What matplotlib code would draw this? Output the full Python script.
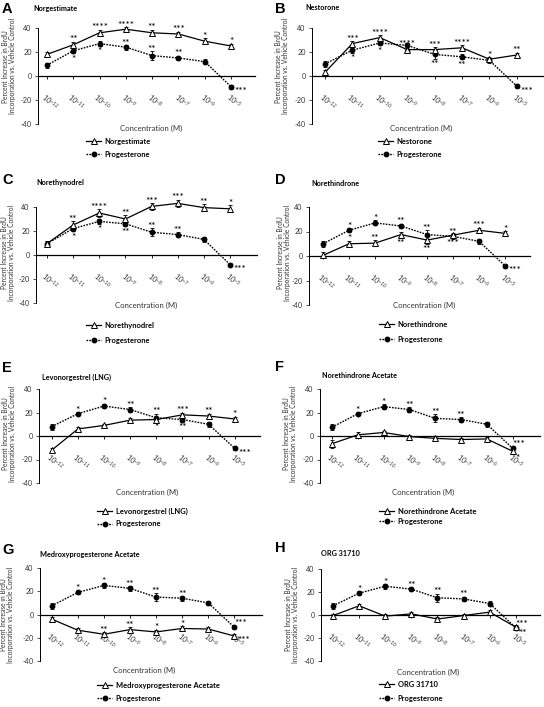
import matplotlib
matplotlib.use('Agg')
import matplotlib.pyplot as plt
from matplotlib.transforms import ScaledTranslation

plt.rcParams['font.family'] = ['Lato', 'DejaVu Sans']
plt.rcParams['mathtext.fontset'] = 'custom'
plt.rcParams['mathtext.rm'] = 'Lato'
plt.rcParams['mathtext.it'] = 'Lato:italic'
plt.rcParams['mathtext.bf'] = 'Lato:bold'

W, H = 544, 707

# ---------------- data ----------------
concentrations = ['10$^{-12}$', '10$^{-11}$', '10$^{-10}$', '10$^{-9}$',
                  '10$^{-8}$', '10$^{-7}$', '10$^{-6}$', '10$^{-5}$']
y_ticks = [40, 20, 0, -20, -40]
panel_letters = ['A', 'B', 'C', 'D', 'E', 'F', 'G', 'H']
drug_names = ['Norgestimate', 'Nestorone', 'Norethynodrel', 'Norethindrone',
              'Levonorgestrel (LNG)', 'Norethindrone Acetate',
              'Medroxyprogesterone Acetate', 'ORG 31710']
reference_name = 'Progesterone'

drug_A = [18, 26, 36, 39, 36, 35, 29, 25]
drug_err_A = [2, 2.5, 2.5, 2, 2.5, 2, 2.5, 2]
prog_A = [9, 21, 27, 24, 17, 15, 12, -9]
prog_err_A = [2, 2, 2, 2, 3.5, 2, 2, 1.5]
drug_sig_A = ['', '**', '****', '****', '**', '***', '*', '*']
drug_sig_pos_A = ['a', 'a', 'a', 'a', 'a', 'a', 'a', 'a']
prog_sig_A = ['', '*', '*', '**', '**', '**', '', '***']
prog_sig_pos_A = ['', 'b', 'b', 'a', 'a', 'a', '', 'r']

drug_B = [3, 27, 32, 22, 22, 23.5, 14, 17.5]
drug_err_B = [2, 2, 2, 2.5, 2, 2, 2, 2]
prog_B = [10, 21.5, 27.5, 25.5, 18, 16, 13, -8.5]
prog_err_B = [2.5, 2, 2, 2, 3.5, 2, 2, 1.5]
drug_sig_B = ['', '***', '****', '****', '***', '****', '*', '**']
drug_sig_pos_B = ['a', 'a', 'a', 'a', 'a', 'a', 'a', 'a']
prog_sig_B = ['', '*', '*', '**', '**', '**', '', '***']
prog_sig_pos_B = ['', 'b', 'b', 'b', 'b', 'b', '', 'r']

drug_C = [9.5, 25, 35, 30, 40.5, 43, 39.5, 38.5]
drug_err_C = [2, 3, 3, 3, 3, 3, 3, 3]
prog_C = [9.5, 22, 28, 26, 19, 17, 13, -8]
prog_err_C = [2, 2, 2, 2, 3.5, 2, 2, 1.5]
drug_sig_C = ['', '**', '****', '**', '***', '***', '**', '*']
drug_sig_pos_C = ['a', 'a', 'a', 'a', 'a', 'a', 'a', 'a']
prog_sig_C = ['', '*', '*', '**', '**', '**', '', '***']
prog_sig_pos_C = ['', 'b', 'b', 'b', 'a', 'a', '', 'r']

drug_D = [0.5, 10, 10.5, 17.5, 13, 17, 21, 18.5]
drug_err_D = [2.5, 2.5, 2.5, 2.5, 3, 2, 2, 2]
prog_D = [10, 21, 27, 24.5, 17.5, 16, 12, -8]
prog_err_D = [2.5, 1.5, 2, 2, 3.5, 2, 2, 1.5]
drug_sig_D = ['', '*', '**', '**', '**', '***', '***', '*']
drug_sig_pos_D = ['', 'a', 'a', 'b', 'b', 'b', 'a', 'a']
prog_sig_D = ['', '*', '*', '**', '**', '**', '', '***']
prog_sig_pos_D = ['', 'a', 'a', 'a', 'a', 'a', '', 'r']

drug_E = [-12, 6, 9, 13.5, 14, 18, 17, 14.5]
drug_err_E = [2, 1.5, 1.5, 1.5, 2, 2, 2, 2]
prog_E = [8, 19, 25.5, 22.5, 15.5, 14, 10, -10.5]
prog_err_E = [2.5, 1.5, 2, 2, 3.5, 2, 2, 1.5]
drug_sig_E = ['', '', '', '', '*', '***', '**', '*']
drug_sig_pos_E = ['', '', '', '', 'b', 'a', 'a', 'a']
prog_sig_E = ['', '*', '*', '**', '**', '**', '', '***']
prog_sig_pos_E = ['', 'a', 'a', 'a', 'a', 'b', '', 'r']

drug_F = [-6.5, 1, 3, -0.5, -2, -3, -2.5, -13]
drug_err_F = [3.5, 2, 1.5, 1.5, 1.5, 1.5, 1.5, 2]
prog_F = [7.5, 19, 25, 22.5, 15, 14, 10, -10.5]
prog_err_F = [2.5, 1.5, 2, 2, 3.5, 2, 2, 1.5]
drug_sig_F = ['', '', '', '', '', '', '', '*']
drug_sig_pos_F = ['', '', '', '', '', '', '', 'br']
prog_sig_F = ['', '*', '*', '**', '**', '**', '', '***']
prog_sig_pos_F = ['', 'a', 'a', 'a', 'a', 'a', '', 'ar']

drug_G = [-4, -13.5, -17, -13, -15, -12, -12.5, -18.5]
drug_err_G = [2, 1.5, 2, 2, 2, 2, 1.5, 2]
prog_G = [7.5, 19, 25, 22.5, 15, 14, 10, -11]
prog_err_G = [2.5, 1.5, 2, 2, 3.5, 2, 2, 1.5]
drug_sig_G = ['', '', '**', '**', '*', '*', '', '***']
drug_sig_pos_G = ['', '', 'a', 'a', 'a', 'a', '', 'r']
prog_sig_G = ['', '*', '*', '**', '**', '**', '', '***']
prog_sig_pos_G = ['', 'a', 'a', 'a', 'a', 'a', '', 'ar']

drug_H = [-0.5, 8, -1, 1, -3.5, -0.5, 2.5, -10.5]
drug_err_H = [1.5, 1.5, 1.5, 1.5, 1.5, 1.5, 1.5, 1.5]
prog_H = [8, 19, 25, 22.5, 15, 14, 10, -11]
prog_err_H = [2.5, 1.5, 2, 2, 3.5, 2, 2, 1.5]
drug_sig_H = ['', '', '', '', '', '', '', '**']
drug_sig_pos_H = ['', '', '', '', '', '', '', 'br']
prog_sig_H = ['', '*', '*', '**', '**', '**', '', '***']
prog_sig_pos_H = ['', 'a', 'a', 'a', 'a', 'a', '', 'ar']

panel_data = [
    (drug_A, drug_err_A, prog_A, prog_err_A, drug_sig_A, drug_sig_pos_A, prog_sig_A, prog_sig_pos_A),
    (drug_B, drug_err_B, prog_B, prog_err_B, drug_sig_B, drug_sig_pos_B, prog_sig_B, prog_sig_pos_B),
    (drug_C, drug_err_C, prog_C, prog_err_C, drug_sig_C, drug_sig_pos_C, prog_sig_C, prog_sig_pos_C),
    (drug_D, drug_err_D, prog_D, prog_err_D, drug_sig_D, drug_sig_pos_D, prog_sig_D, prog_sig_pos_D),
    (drug_E, drug_err_E, prog_E, prog_err_E, drug_sig_E, drug_sig_pos_E, prog_sig_E, prog_sig_pos_E),
    (drug_F, drug_err_F, prog_F, prog_err_F, drug_sig_F, drug_sig_pos_F, prog_sig_F, prog_sig_pos_F),
    (drug_G, drug_err_G, prog_G, prog_err_G, drug_sig_G, drug_sig_pos_G, prog_sig_G, prog_sig_pos_G),
    (drug_H, drug_err_H, prog_H, prog_err_H, drug_sig_H, drug_sig_pos_H, prog_sig_H, prog_sig_pos_H),
]

# ---------------- layout (pixels) ----------------
layouts = [
    dict(box=(38, 255, 28, 124), xlim=(-0.34, 7.91), letter=(2, 9), title=(33, 8),
         ylab=(-29, 0.6), conc=(0.52, -0.045), leg=(86, 142, 157)),
    dict(box=(312, 544, 28, 124), xlim=(-0.47, 7.99), letter=(275, 9), title=(305, 8),
         ylab=(-30, 0.6), conc=(0.47, -0.045), leg=(378, 142, 157)),
    dict(box=(36, 257, 207, 303), xlim=(-0.42, 8.03), letter=(2, 180), title=(36, 183),
         ylab=(-28, 0.52), conc=(0.5, -0.02), leg=(86, 326, 343)),
    dict(box=(309, 530, 207, 305), xlim=(-0.54, 7.96), letter=(275, 180), title=(311, 183),
         ylab=(-25, 0.53), conc=(0.52, 0.0), leg=(379, 325, 342)),
    dict(box=(39, 260, 389, 483), xlim=(-0.49, 7.97), letter=(2, 368), title=(42, 377),
         ylab=(-30, 0.52), conc=(0.49, -0.1), leg=(97, 512, 526)),
    dict(box=(320, 540, 389, 483), xlim=(-0.47, 8.06), letter=(275, 367), title=(322, 375),
         ylab=(-30, 0.52), conc=(0.47, -0.1), leg=(379, 512, 524)),
    dict(box=(40, 262, 568, 661), xlim=(-0.45, 8.06), letter=(2, 550), title=(40, 554),
         ylab=(-33, 0.5), conc=(0.47, -0.1), leg=(97, 686, 701)),
    dict(box=(321, 540, 569, 661), xlim=(-0.46, 7.93), letter=(275, 548), title=(321, 553),
         ylab=(-29, 0.5), conc=(0.49, -0.12), leg=(379, 685, 701)),
]

fig = plt.figure(figsize=(W / 100, H / 100), dpi=100)
fig.patch.set_facecolor('white')

FS = 5.2
SIG_FS = 7.2
x = list(range(len(concentrations)))


def fx(px):
    return px / W


def fy(py):
    return 1 - py / H


def annotate(ax, vals, errs, sigs, poss):
    for i, (s, p) in enumerate(zip(sigs, poss)):
        if not s:
            continue
        v, e = vals[i], errs[i]
        kw = dict(fontsize=SIG_FS, va='center', clip_on=False)
        if p == 'a':
            ax.text(i, v + e + 1.5, s, ha='center', **kw)
        elif p == 'b':
            ax.text(i, v - e - 5.0, s, ha='center', **kw)
        elif p == 'r':
            ax.text(i + 0.13, v - 4.0, s, ha='left', **kw)
        elif p == 'ar':
            ax.text(i + 0.0, v + 3.0, s, ha='left', **kw)
        elif p == 'br':
            ax.text(i + 0.12, v - 6.0, s, ha='left', **kw)


for k in range(8):
    lay = layouts[k]
    drug, derr, prog, perr, dsig, dpos, psig, ppos = panel_data[k]
    l, r, t, b = lay['box']
    ax = fig.add_axes([fx(l), fy(b), (r - l) / W, (b - t) / H])
    ax.set_xlim(*lay['xlim'])
    ax.set_ylim(-40, 40)
    ax.set_facecolor('none')
    for sp in ['top', 'right']:
        ax.spines[sp].set_visible(False)
    ax.spines['bottom'].set_position(('data', 0))
    ax.spines['left'].set_linewidth(0.7)
    ax.spines['bottom'].set_linewidth(0.9)
    ax.set_yticks(y_ticks)
    ax.set_yticklabels([str(v) for v in y_ticks])
    ax.tick_params(axis='y', direction='out', length=2.5, width=0.6, pad=2,
                   labelsize=FS, colors='#333333')
    ax.set_xticks(x)
    ax.set_xticklabels(concentrations, rotation=-40, ha='center', va='top')
    ax.tick_params(axis='x', direction='out', length=2.5, width=0.6, pad=9,
                   labelsize=FS, labelcolor='#333333')
    off = ScaledTranslation(2 / 72, 0, fig.dpi_scale_trans)
    for lbl in ax.get_xticklabels():
        lbl.set_transform(lbl.get_transform() + off)

    containers = []
    containers.append(ax.errorbar(x, prog, yerr=perr, fmt='none', ecolor='black',
                                  elinewidth=0.6, capsize=1.3, capthick=0.6, zorder=2))
    containers.append(ax.errorbar(x, drug, yerr=derr, fmt='none', ecolor='black',
                                  elinewidth=0.6, capsize=1.3, capthick=0.6, zorder=2))
    for c in containers:
        for art in list(c[1]) + list(c[2]):
            art.set_clip_on(False)
    lp, = ax.plot(x, prog, linestyle=(0, (1.2, 0.9)), color='black', lw=1.0,
                  marker='o', ms=3.2, mfc='black', mec='black', zorder=3,
                  label=reference_name, clip_on=False)
    ld, = ax.plot(x, drug, linestyle='-', color='black', lw=0.9, marker='^',
                  ms=5, mfc='white', mec='black', mew=0.7, zorder=4,
                  label=drug_names[k], clip_on=False)

    annotate(ax, drug, derr, dsig, dpos)
    annotate(ax, prog, perr, psig, ppos)

    xo, yf = lay['ylab']
    ax.text(xo / (r - l), yf, 'Percent Increase in BrdU\nIncorporation vs. Vehicle Control',
            transform=ax.transAxes, rotation=90, ha='center', va='center',
            fontsize=4.8, color='#333333', linespacing=1.15)
    cx, cy = lay['conc']
    ax.text(cx, cy, 'Concentration (M)', transform=ax.transAxes, ha='center',
            va='center', fontsize=5.6, color='#333333')

    lx, ly = lay['letter']
    fig.text(fx(lx), fy(ly), panel_letters[k], ha='left', va='center',
             fontsize=10.5, fontweight='bold', family='Liberation Sans')
    tx, ty = lay['title']
    fig.text(fx(tx), fy(ty), drug_names[k], ha='left', va='center',
             fontsize=5.2, fontweight='bold')

    gx, g1, g2 = lay['leg']
    row = (g2 - g1) * 72 / 100
    ax.legend(handles=[ld, lp], loc='upper left',
              bbox_to_anchor=(fx(gx), fy(g1 - 4)),
              bbox_transform=fig.transFigure, frameon=False,
              borderpad=0, borderaxespad=0, handlelength=2.0,
              handletextpad=0.5, labelspacing=(row - 6.5) / 5.4,
              prop={'size': 5.4, 'weight': 'bold'})

fig.savefig('out.png', dpi=100, facecolor='white')
